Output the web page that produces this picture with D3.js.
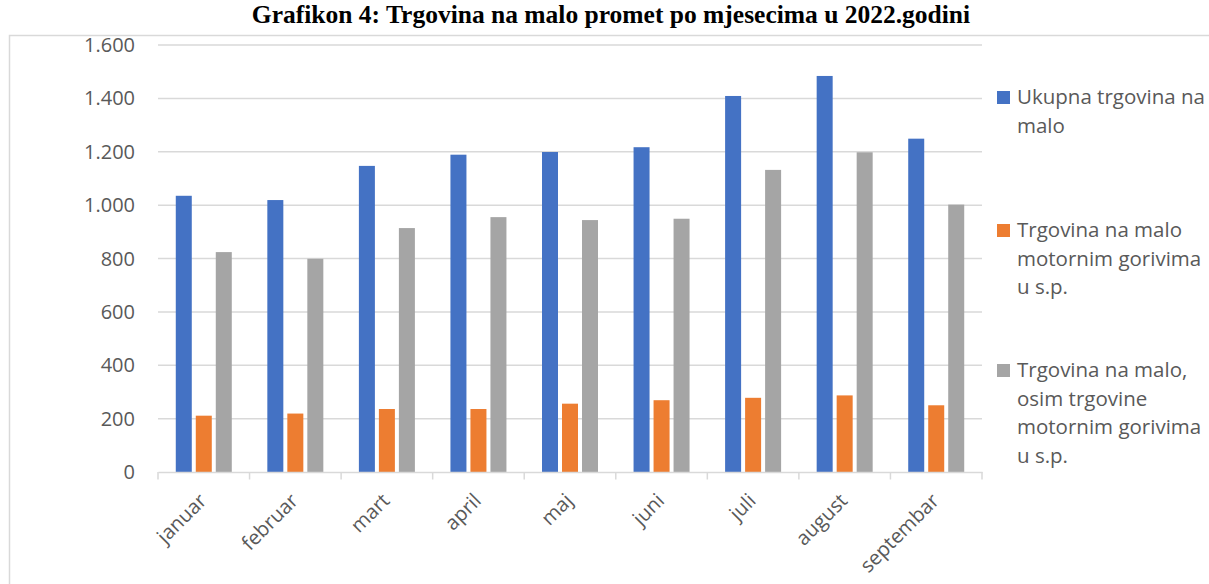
<!DOCTYPE html>
<html>
<head>
<meta charset="utf-8">
<script src="https://cdn.jsdelivr.net/npm/d3@7"></script>
<style>
  body { margin: 0; background: #fff; }
  text { font-family: "Open Sans", "Noto Sans", sans-serif; fill: #595959; }
</style>
</head>
<body>
<div id="chart"></div>
<script>
// podaci procitani sa grafikona
const months = ["januar", "februar", "mart", "april", "maj", "juni", "juli", "august", "septembar"];
const ukupno = [1035, 1019, 1147, 1189, 1199, 1217, 1409, 1484, 1249];
const gorivo = [211, 219, 236, 236, 256, 269, 278, 287, 250];
const osimGoriva = [824, 799, 914, 955, 944, 949, 1132, 1198, 1002];
const yTicks = [0, 200, 400, 600, 800, 1000, 1200, 1400, 1600];
const seriesNames = [
  ["Ukupna trgovina na", "malo"],
  ["Trgovina na malo", "motornim gorivima", "u s.p."],
  ["Trgovina na malo,", "osim trgovine", "motornim gorivima", "u s.p."]
];
const colors = ["#4472c4", "#ed7d31", "#a5a5a5"];

const W = 1209, H = 584;
const svg = d3.select("#chart").append("svg")
  .attr("width", W).attr("height", H);

// naslov
svg.append("text")
  .attr("x", 611).attr("y", 23)
  .attr("text-anchor", "middle")
  .style("font-family", "'Liberation Serif', 'Times New Roman', serif")
  .style("font-weight", "bold")
  .style("font-size", "25.5px")
  .style("fill", "#000")
  .text("Grafikon 4: Trgovina na malo promet po mjesecima u 2022.godini");

// okvir grafikona
svg.append("rect")
  .attr("x", 9.5).attr("y", 35.5)
  .attr("width", 1220).attr("height", 600)
  .attr("fill", "none").attr("stroke", "#d9d9d9").attr("stroke-width", 1.5);

const x = d3.scaleBand().domain(months).range([158, 982]);
const y = d3.scaleLinear().domain([0, 1600]).range([472, 45]);

// mreza
svg.selectAll(".grid")
  .data(yTicks.filter(d => d > 0))
  .enter().append("line")
  .attr("x1", 158).attr("x2", 982)
  .attr("y1", d => y(d)).attr("y2", d => y(d))
  .attr("stroke", "#d9d9d9").attr("stroke-width", 1.5);

// oznake y ose
svg.selectAll(".ylab")
  .data(yTicks)
  .enter().append("text")
  .attr("x", 135)
  .attr("y", d => y(d))
  .attr("dy", "0.35em")
  .attr("text-anchor", "end")
  .style("font-size", "20px")
  .text(d => d3.format(",")(d).replace(",", "."));

// serije
const series = [ukupno, gorivo, osimGoriva];
const barW = 16, step = 20;
series.forEach((vals, i) => {
  svg.selectAll(".bar" + i)
    .data(vals)
    .enter().append("rect")
    .attr("x", (d, j) => x(months[j]) + x.bandwidth() / 2 - 28 + i * step)
    .attr("y", d => y(d))
    .attr("width", barW)
    .attr("height", d => y(0) - y(d))
    .attr("fill", colors[i]);
});

// x osa
const xAxis = d3.axisBottom(x).tickSize(0).tickFormat("");
const gx = svg.append("g").attr("transform", `translate(0,${y(0)})`).call(xAxis);
gx.select(".domain").attr("stroke", "#d9d9d9").attr("stroke-width", 1.5);
svg.selectAll(".xtick")
  .data(months.concat(["end"]))
  .enter().append("line")
  .attr("x1", (d, i) => 158 + i * x.step()).attr("x2", (d, i) => 158 + i * x.step())
  .attr("y1", y(0)).attr("y2", y(0) + 7.5)
  .attr("stroke", "#d9d9d9").attr("stroke-width", 1.5);

svg.selectAll(".xlab")
  .data(months)
  .enter().append("text")
  .attr("text-anchor", "end")
  .attr("transform", d => `translate(${x(d) + x.bandwidth() / 2 + 4},${y(0) + 30}) rotate(-45)`)
  .style("font-size", "20px")
  .text(d => d);

// legenda
const legendTop = [104, 237, 377];
const lh = 28.5;
seriesNames.forEach((lines, i) => {
  const g = svg.append("g");
  g.append("rect")
    .attr("x", 997).attr("y", legendTop[i] - 13)
    .attr("width", 13).attr("height", 13)
    .attr("fill", colors[i]);
  const t = g.append("text").style("font-size", "20.5px");
  lines.forEach((l, k) => {
    t.append("tspan").attr("x", 1017).attr("y", legendTop[i] + k * lh).text(l);
  });
});
</script>
</body>
</html>
